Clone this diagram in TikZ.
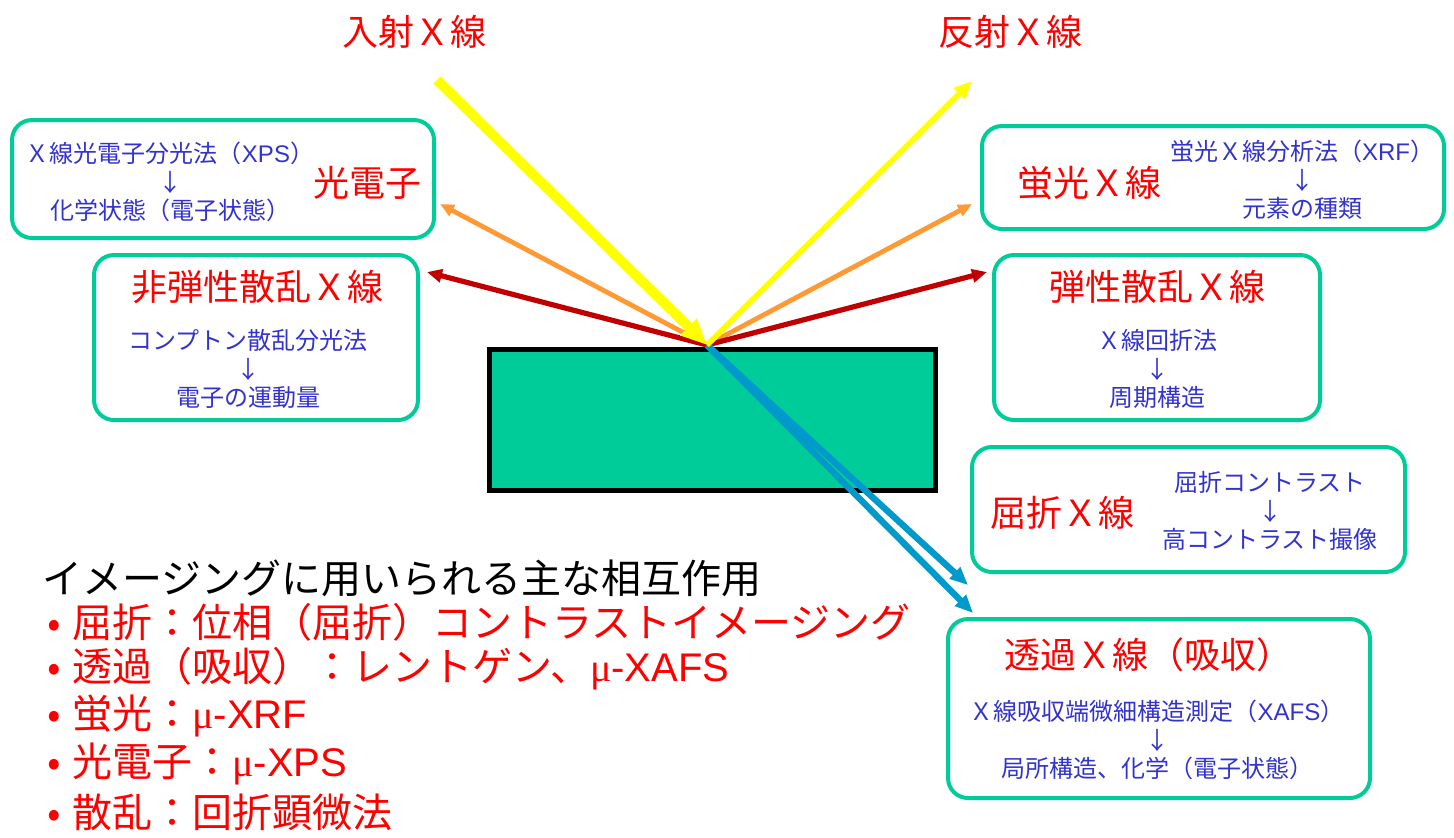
\documentclass[tikz,border=0pt]{standalone}
\usepackage{fontspec}
\setmainfont{Noto Sans CJK JP}
\newfontfamily\serifmu{Liberation Serif}
\newfontfamily\lat{Liberation Sans}
\usetikzlibrary{arrows.meta}
\definecolor{tealc}{HTML}{00CC99}
\definecolor{redc}{HTML}{FF0000}
\definecolor{bluec}{HTML}{3333CC}
\definecolor{darkredc}{HTML}{C00000}
\definecolor{orangec}{HTML}{FF9933}
\definecolor{yellowc}{HTML}{FFFF00}
\definecolor{arrowbluec}{HTML}{0099CC}
\tikzset{
  box/.style={draw=tealc, line width=2pt, rounded corners=10pt, inner sep=0pt},
  ttl/.style={text=redc, font=\fontsize{18}{20}\selectfont, inner sep=0pt},
  dsc/.style={text=bluec, font=\fontsize{12}{14.2}\selectfont, align=center, inner sep=0pt},
  bigtxt/.style={font=\fontsize{20}{22}\selectfont, inner sep=0pt, anchor=west},
  yin/.style={draw=yellowc, line width=5pt, -{Triangle[length=13pt,width=11pt]}},
  yout/.style={draw=yellowc, line width=2.8pt, -{Triangle[length=9pt,width=7.5pt]}},
  orng/.style={draw=orangec, line width=2.4pt, -{Triangle[length=7pt,width=6pt]}},
  dred/.style={draw=darkredc, line width=2.6pt, -{Triangle[length=7.5pt,width=6.5pt]}},
  blu/.style={draw=arrowbluec, line width=3.2pt, -{Triangle[length=9pt,width=7.5pt]}},
}
\begin{document}
\begin{tikzpicture}[x=0.5pt,y=-0.5pt]
\useasboundingbox (0,0) rectangle (1454,837);

% top labels
\node[ttl] (inlab) at (414,32) {入射Ｘ線};
\node[ttl] (outlab) at (1010,32) {反射Ｘ線};

% sample
\node[draw=black, fill=tealc, line width=2.5pt, minimum width=223pt, minimum height=70.5pt, inner sep=0pt] (sample) at (712.5,420) {};

% boxes
\node[box, minimum width=211pt, minimum height=59pt] (b1) at (223,179) {};
\node[box, minimum width=162pt, minimum height=82.5pt] (b2) at (256,337.5) {};
\node[box, minimum width=231pt, minimum height=51.5pt] (b3) at (1213,177.5) {};
\node[box, minimum width=163pt, minimum height=82.5pt] (b4) at (1157,337.5) {};
\node[box, minimum width=216.5pt, minimum height=62.5pt] (b5) at (1188.5,509.5) {};
\node[box, minimum width=211pt, minimum height=89.5pt] (b6) at (1159,708.5) {};

% box texts
\node[dsc] (d1) at (170,182) {Ｘ線光電子分光法（{\lat XPS}）\\↓\\化学状態（電子状態）};
\node[ttl] (t1) at (367,183) {光電子};

\node[ttl] (t2) at (257,287) {非弾性散乱Ｘ線};
\node[dsc] (d2) at (248,369) {コンプトン散乱分光法\\↓\\電子の運動量};

\node[ttl] (t3) at (1089,183) {蛍光Ｘ線};
\node[dsc] (d3) at (1302,180) {蛍光Ｘ線分析法（{\lat XRF}）\\↓\\元素の種類};

\node[ttl] (t4) at (1157,287) {弾性散乱Ｘ線};
\node[dsc] (d4) at (1157,369) {Ｘ線回折法\\↓\\周期構造};

\node[ttl] (t5) at (1062,513) {屈折Ｘ線};
\node[dsc] (d5) at (1270,511) {屈折コントラスト\\↓\\高コントラスト撮像};

\node[ttl] (t6) at (1148,655) {透過Ｘ線（吸収）};
\node[dsc] (d6) at (1157,740) {Ｘ線吸収端微細構造測定（{\lat XAFS}）\\↓\\局所構造、化学（電子状態）};

% arrows
\coordinate (O) at (707,345);
\coordinate (yinS) at (437,80);
\coordinate (youtE) at (972,81);
\coordinate (orL) at (440,204);
\coordinate (orR) at (972,204);
\coordinate (rdL) at (427,272);
\coordinate (rdR) at (987,272);
\coordinate (blA) at (968,585);
\coordinate (blB) at (973,613);

\draw[orng] (O) -- (orL);
\draw[orng] (O) -- (orR);
\draw[dred] (O) -- (rdL);
\draw[dred] (O) -- (rdR);
\draw[blu] (O) -- (blA);
\draw[blu] (O) -- (blB);
\draw[yout] (O) -- (youtE);
\draw[yin] (yinS) -- (O);

% bottom text
\node[bigtxt, text=black] (head) at (42,578) {イメージングに用いられる主な相互作用};
\node[bigtxt, text=redc] (l1) at (36,622) {\makebox[18pt][c]{•}屈折：位相（屈折）コントラストイメージング};
\node[bigtxt, text=redc] (l2) at (36,669) {\makebox[18pt][c]{•}透過（吸収）：レントゲン、{\serifmu μ}{\lat -XAFS}};
\node[bigtxt, text=redc] (l3) at (36,716) {\makebox[18pt][c]{•}蛍光：{\serifmu μ}{\lat -XRF}};
\node[bigtxt, text=redc] (l4) at (36,764) {\makebox[18pt][c]{•}光電子：{\serifmu μ}{\lat -XPS}};
\node[bigtxt, text=redc] (l5) at (36,812) {\makebox[18pt][c]{•}散乱：回折顕微法};
\end{tikzpicture}
\end{document}
